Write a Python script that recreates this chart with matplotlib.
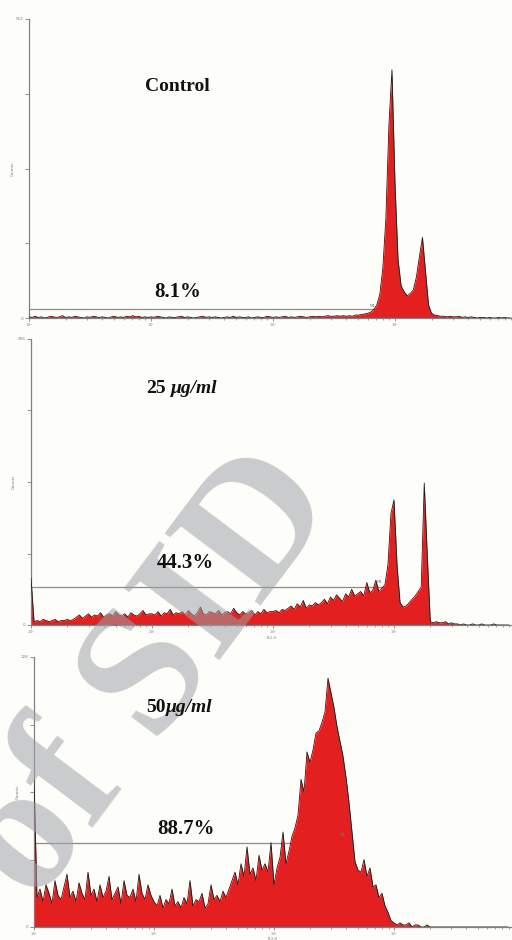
import numpy as np
import matplotlib.pyplot as plt
from matplotlib.text import Annotation

# FL2-H histograms, one count per 0.025-decade channel starting at 10^0
step = 0.025

control_counts = [
    2, 1, 3, 1, 2, 0, 1, 3, 2, 1, 2, 4, 1, 2, 1, 3, 2, 1, 0, 2,
    1, 3, 2, 1, 2, 1, 0, 2, 3, 1, 2, 1, 3, 2, 4, 2, 3, 1, 2, 1,
    2, 1, 3, 2, 1, 0, 2, 1, 1, 2, 3, 1, 2, 1, 0, 1, 2, 3, 1, 2,
    1, 2, 1, 0, 1, 2, 1, 3, 1, 2, 1, 1, 2, 0, 1, 2, 1, 1, 3, 2,
    1, 2, 1, 2, 3, 1, 2, 1, 2, 3, 2, 1, 2, 3, 2, 3, 2, 3, 4, 3,
    3, 4, 3, 4, 3, 4, 3, 5, 5, 6, 7, 8, 10, 14, 22, 40, 85, 170, 330, 425,
    230, 100, 55, 45, 38, 42, 48, 70, 105, 138, 80, 22, 8, 5, 4, 3, 3, 2, 3, 2,
    2, 3, 1, 2, 1, 2, 1, 0, 1, 1, 0, 1, 0, 0, 1, 0, 1, 0, 0,
]

dose25_counts = [
    42,
    3, 4, 3, 5, 4, 3, 4, 5, 3, 4, 4, 5, 4, 5,
    7, 9, 6, 8, 10, 7, 9, 8, 11, 7, 9, 10, 8, 12, 9, 8, 10, 7, 11, 9, 8, 10, 13, 9, 10,
    10, 9, 12, 8, 11, 10, 14, 9, 11, 10, 12, 9, 13, 10, 8, 11, 16, 10, 9, 12,
    11, 10, 13, 9, 11, 12, 10, 15, 11, 9, 12, 10, 11, 13, 9, 12, 10, 14, 11, 12,
    12, 13, 11, 14, 13,
    15, 17, 14, 19, 16, 22, 15, 18, 17, 20, 18,
    20, 23, 19, 25, 22, 27, 24, 21, 28, 25, 32, 26,
    28, 30, 26, 38, 29, 31, 40, 30, 33, 36,
    54, 100, 112, 54, 20, 16, 17, 20, 23, 26, 30, 34, 127, 63,
    3, 2, 3, 2, 2, 3, 1, 2, 1,
    1, 0, 1, 0, 0, 1, 0, 0, 1, 0, 0, 0, 1, 0, 0, 0, 0, 0,
]

dose50_counts = [
    70,
    14, 18, 12, 20, 16, 11, 22, 15, 13, 19, 25, 14, 17, 12, 21, 16, 13, 26, 15, 18,
    12, 20, 14, 17, 24, 13, 16, 19, 11, 22, 15, 14, 18, 12, 25, 16, 13, 20, 15,
    12, 10, 15, 9, 13, 11, 18, 10, 12, 9, 14, 11, 22, 10, 13, 12, 16, 9, 11, 20,
    13, 15, 12, 17, 14,
    18, 22, 26, 20, 30, 24, 38, 25, 28, 22, 34, 27,
    30, 26, 40, 20, 28, 33, 45, 30, 36,
    43, 47, 53, 70, 64, 83, 78, 84, 92, 93, 97, 102, 118, 111, 104, 95, 88, 81, 71, 59, 45, 31,
    27, 26, 32, 24, 28, 19, 20, 14, 16, 10, 7, 3, 2,
    1, 2, 1, 1, 2, 0, 1, 1,
    0, 0, 1, 0, 0, 0, 0, 0, 0, 0, 0, 0, 0, 0, 0,
    0, 0, 0, 0, 0, 0, 0, 0, 0, 0, 0, 0, 0, 0, 0,
]

panel_counts = [control_counts, dose25_counts, dose50_counts]
panel_ymax = [512, 256, 128]
gate_level = [15, 34, 40]
gate_end = [10 ** 2.84, 10 ** 2.91, 10 ** 2.6]
gate_pct = ['8.1%', '44.3%', '88.7%']
dose_num = ['Control', '25', '50']
dose_unit = [None, 'μg/ml', 'μg/ml']

plt.rcParams['font.family'] = ['Liberation Serif', 'DejaVu Serif']

fig = plt.figure(figsize=(5.12, 9.40), dpi=100)
fig.patch.set_facecolor('#fdfdfa')

# axes frames in pixels: left, baseline, top, px per decade
frames = [(29, 318, 19, 122), (31, 625, 339, 121), (34, 927, 657, 120)]
# label anchors (axes fraction): dose label, percent label
dose_pos = [(0.308, 0.760, 'center'), (0.239, 0.812, 'left'), (0.234, 0.797, 'left')]
pct_pos = [(0.308, 0.070), (0.320, 0.199), (0.317, 0.344)]
unit_gap = [0, 3.5, 0.5]

axis_grey = '#808080'
small = dict(family='DejaVu Sans', color='#777777')

for k in range(3):
    left, base, top, ppd = frames[k]
    ax = fig.add_axes([left / 512, (940 - base) / 940, (512 - left) / 512, (base - top) / 940])
    ax.set_facecolor('none')
    counts = np.array(panel_counts[k], dtype=float)
    x = 10 ** (np.arange(len(counts)) * step)

    ax.set_xscale('log')
    ax.set_xlim(1, 10 ** ((512 - left) / ppd))
    ax.set_ylim(0, panel_ymax[k])

    # gate marker
    ax.plot([1, gate_end[k]], [gate_level[k], gate_level[k]], color='#8c8c8c', lw=0.9, zorder=1)
    ax.text(gate_end[k], gate_level[k] * 1.05 + panel_ymax[k] * 0.004, 'M1', fontsize=3,
            ha='right', va='bottom', **small)

    ax.fill_between(x, counts, color='#e3201f', lw=0, zorder=2)
    ax.plot(x, counts, color='#1c1c1c', lw=0.6, zorder=3)

    for side in ['top', 'right']:
        ax.spines[side].set_visible(False)
    for side in ['left', 'bottom']:
        ax.spines[side].set_color(axis_grey)
        ax.spines[side].set_linewidth(0.9)

    ymax = panel_ymax[k]
    ax.set_yticks(np.linspace(0, ymax, 5))
    ax.set_yticklabels(['0', '', '', '', str(ymax)], family='DejaVu Sans')
    ax.tick_params(axis='y', direction='out', length=3, width=0.6, colors=axis_grey,
                   labelsize=3, pad=1)
    ax.tick_params(axis='x', which='major', direction='out', length=2, width=0.6,
                   colors=axis_grey, labelsize=2.5, pad=0.5)
    ax.tick_params(axis='x', which='minor', direction='out', length=1.5, width=0.5,
                   colors=axis_grey)
    for lab in ax.get_xticklabels():
        lab.set_family('DejaVu Sans')
    ax.set_ylabel('Counts', fontsize=3, labelpad=1, **small)
    if k == 1:
        ax.set_xlabel('FL2-H', fontsize=2.5, labelpad=0, **small)
    elif k == 2:
        ax.set_xlabel('FL2-H', fontsize=2.5, labelpad=-0.5, **small)

    # dose and percentage labels, kept above the watermark
    dx, dy, ha = dose_pos[k]
    t = fig.text(dx, dy, dose_num[k], transform=ax.transAxes, fontsize=14,
                 fontweight='bold', ha=ha, va='baseline', color='#111111', zorder=11)
    if dose_unit[k]:
        fig.add_artist(Annotation(dose_unit[k], xy=(1, 0), xycoords=t,
                                  xytext=(unit_gap[k], 0), textcoords='offset points',
                                  fontsize=14, fontweight='bold', fontstyle='italic',
                                  ha='left', va='bottom', color='#111111', zorder=11))
    px, py = pct_pos[k]
    fig.text(px, py, gate_pct[k], transform=ax.transAxes, fontsize=15,
             fontweight='bold', ha='center', va='baseline', color='#111111', zorder=11)

# archive watermark
fig.text(152 / 512, 1 - 677 / 940, 'of SID', fontsize=132, fontweight='bold',
         color='#9ea2a7', alpha=0.55, rotation=53, rotation_mode='anchor',
         ha='center', va='center', zorder=10)

fig.savefig('out.png', dpi=100, facecolor=fig.get_facecolor())
